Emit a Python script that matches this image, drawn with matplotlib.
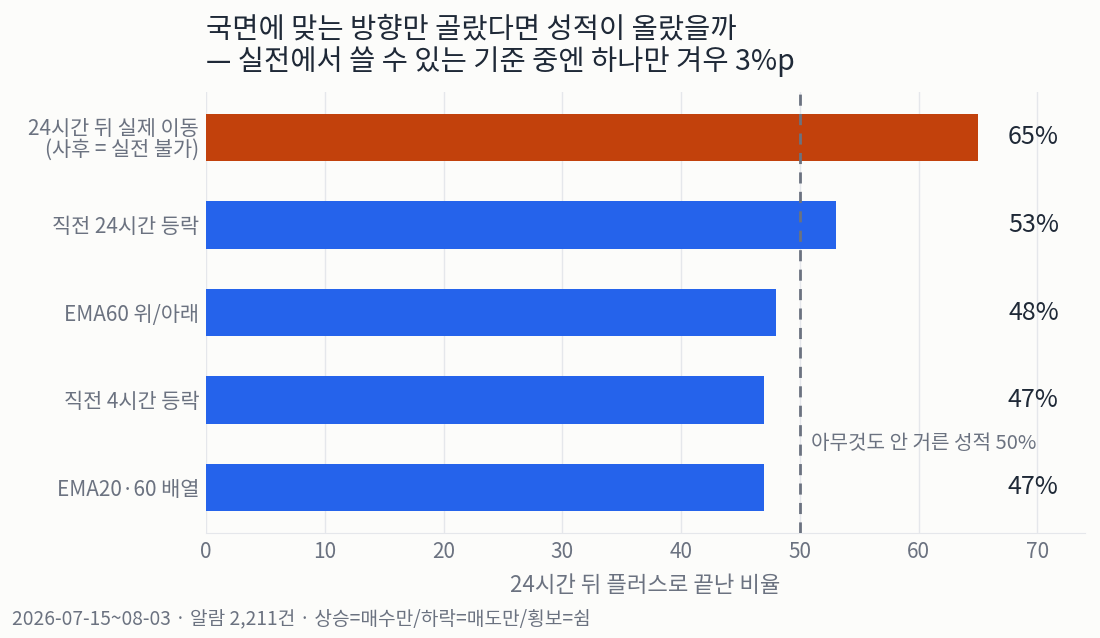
import matplotlib
matplotlib.use("Agg")
import matplotlib.pyplot as plt

plt.rcParams['font.family'] = ['Noto Sans CJK KR', 'DejaVu Sans']

categories = ["24시간 뒤 실제 이동\n(사후 = 실전 불가)", "직전 24시간 등락", "EMA60 위/아래",
              "직전 4시간 등락", "EMA20·60 배열"]
values = [65, 53, 48, 47, 47]
value_labels = ["65%", "53%", "48%", "47%", "47%"]
colors = ["#C2410C", "#2563EB", "#2563EB", "#2563EB", "#2563EB"]
baseline = 50
baseline_label = "아무것도 안 거른 성적 50%"
xticks = [0, 10, 20, 30, 40, 50, 60, 70]
title = "국면에 맞는 방향만 골랐다면 성적이 올랐을까\n— 실전에서 쓸 수 있는 기준 중엔 하나만 겨우 3%p"
xlabel = "24시간 뒤 플러스로 끝난 비율"
footer = "2026-07-15~08-03 · 알람 2,211건 · 상승=매수만/하락=매도만/횡보=쉼"

bg = "#FCFCFA"
fig = plt.figure(figsize=(11, 6.38), dpi=100, facecolor=bg)
ax = fig.add_axes([206/1100, 1 - 533/638, (1085-206)/1100, (533-92)/638])
ax.set_facecolor(bg)

y = list(range(len(categories)))
ax.barh(y, values, height=0.54, color=colors, zorder=2)
ax.set_ylim(4.52, -0.52)
ax.set_xlim(0, 74)
ax.set_xticks(xticks)
ax.set_yticks(y)
ax.set_yticklabels(categories)
ax.grid(axis='x', color="#E5E7EB", linewidth=1, zorder=0)
ax.set_axisbelow(True)
for s in ['top', 'right', 'left']:
    ax.spines[s].set_visible(False)
ax.spines['bottom'].set_color("#E5E7EB")
ax.tick_params(axis='both', length=0, colors="#6B7280")
ax.tick_params(axis='y', pad=5, labelsize=15)
ax.tick_params(axis='x', pad=6, labelsize=15)
for lab in ax.get_yticklabels():
    lab.set_horizontalalignment('right')
    lab.set_linespacing(0.95)

ax.axvline(baseline, color="#6B7280", linestyle=(0, (4, 3)), linewidth=2, zorder=3)
ax.text(baseline + 0.9, 3.5, baseline_label, ha='left', va='center', color="#6B7280", fontsize=14.5)

for yi, lab in zip(y, value_labels):
    ax.text(71.8, yi, lab, ha='right', va='center', color="#1F2937", fontsize=18)

ax.set_xlabel(xlabel, color="#6B7280", fontsize=16, labelpad=8)

fig.text(206/1100, 1 - 14/638, title, ha='left', va='top', color="#1F2937", fontsize=20.5, linespacing=1.1)
fig.text(12/1100, 1 - 619/638, footer, ha='left', va='center', color="#6B7280", fontsize=13.8)

fig.savefig("out.png", dpi=100, facecolor=bg)
